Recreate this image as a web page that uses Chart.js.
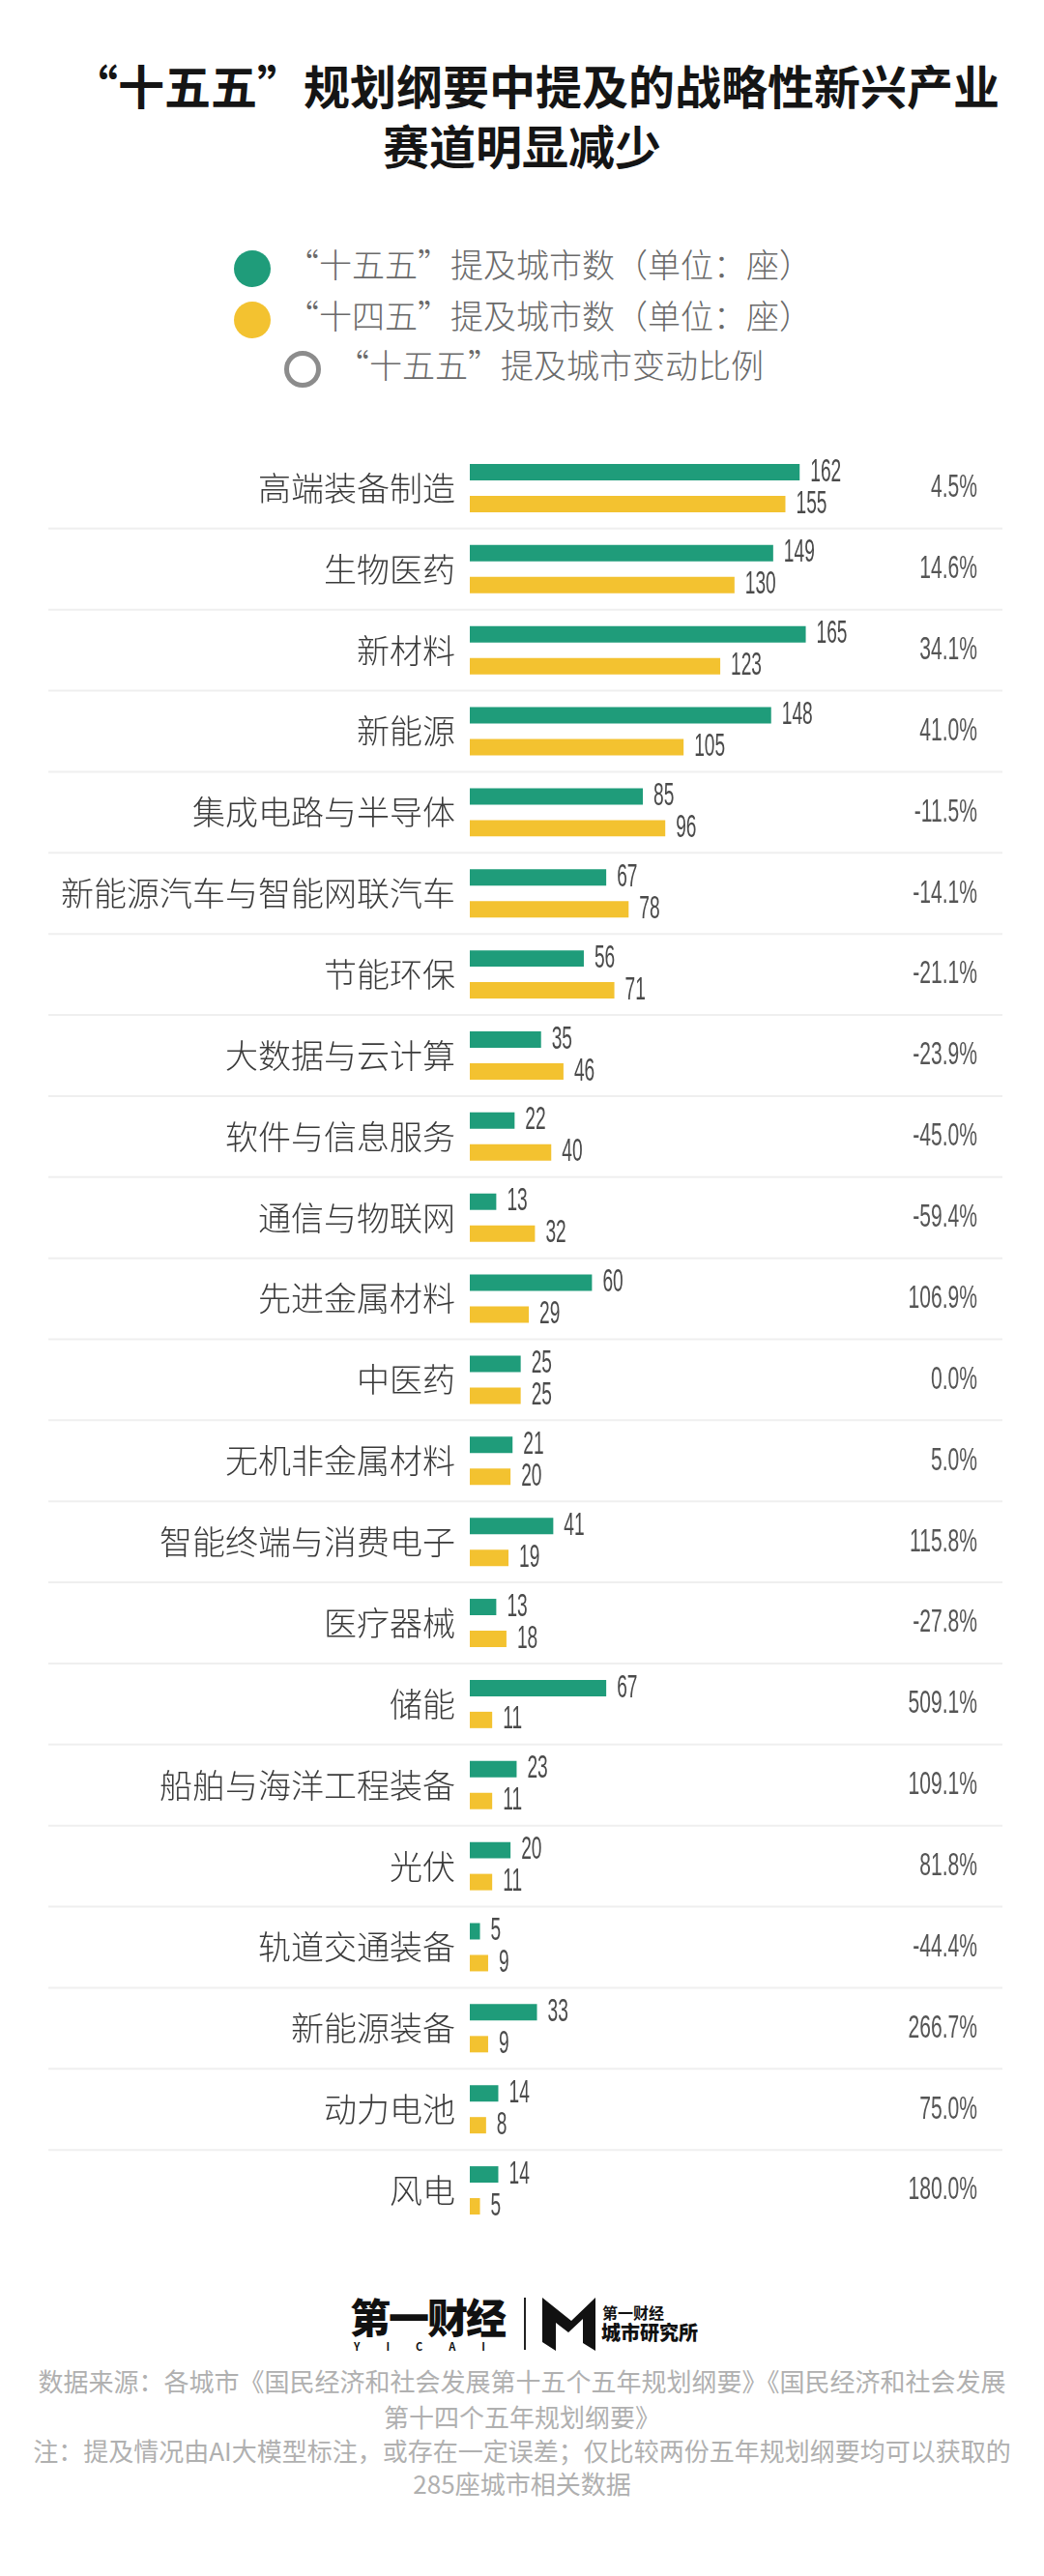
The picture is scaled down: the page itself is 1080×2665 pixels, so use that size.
<!DOCTYPE html>
<html lang="zh-CN">
<head>
<meta charset="utf-8">
<title>“十五五”规划纲要中提及的战略性新兴产业赛道明显减少</title>
<script src="https://cdn.jsdelivr.net/npm/chart.js@4.4.0/dist/chart.umd.min.js"></script>
<style>
  html, body { margin: 0; padding: 0; background: #fff; }
  body { width: 1080px; height: 2665px; position: relative; overflow: hidden;
         font-family: "Noto Sans CJK SC", "Noto Sans", sans-serif; }
  .abs { position: absolute; }
  .title { left: 0; width: 1080px; text-align: center; font-size: 48px; font-weight: 700;
           color: #151515; line-height: 60px; white-space: nowrap; }
  .legend-row { height: 40px; line-height: 40px; font-size: 34px; font-weight: 300; color: #6a6a6a; white-space: nowrap; }
  .dot { display: inline-block; width: 38px; height: 38px; border-radius: 50%; vertical-align: middle; margin-right: 16px; box-sizing: border-box; }
  .chart-box { left: 0; top: 463px; width: 1080px; height: 1845px; }
  .note { left: 0; width: 1080px; text-align: center; font-size: 26px; color: #b0b0b0; line-height: 35px; white-space: nowrap; }
</style>
</head>
<body>

<div class="abs title" style="top:57px;left:14px">“十五五”规划纲要中提及的战略性新兴产业</div>
<div class="abs title" style="top:119px">赛道明显减少</div>

<div class="abs legend-row" style="left:242px;top:253px"><span class="dot" style="background:#1f9c7a"></span>“十五五”提及城市数（单位：座）</div>
<div class="abs legend-row" style="left:242px;top:306px"><span class="dot" style="background:#f3c230"></span>“十四五”提及城市数（单位：座）</div>
<div class="abs legend-row" style="left:294px;top:357px"><span class="dot" style="border:5px solid #8c8c8c"></span>“十五五”提及城市变动比例</div>

<div class="abs chart-box"><canvas id="chart"></canvas></div>

<!-- logo -->
<div class="abs" style="left:362px;top:2372px;font-size:42px;font-weight:900;color:#111;line-height:48px;letter-spacing:-2px">第一财经</div>
<div class="abs" style="left:366px;top:2421px;font-size:11px;font-weight:700;color:#111;letter-spacing:27px;line-height:12px">YICAI</div>
<div class="abs" style="left:542px;top:2377px;width:2px;height:54px;background:#222"></div>
<svg class="abs" style="left:561px;top:2377px" width="56" height="55" viewBox="0 0 56 55">
  <polygon points="0,0 30,24 55,0 55,55 42,47 42,22 27,36 14,26 14,55 0,46" fill="#111"/>
</svg>
<div class="abs" style="left:623px;top:2383px;font-size:16px;font-weight:700;color:#111;line-height:18px">第一财经</div>
<div class="abs" style="left:622px;top:2401px;font-size:20px;font-weight:900;color:#111;line-height:24px">城市研究所</div>

<div class="abs note" style="top:2445px">数据来源：各城市《国民经济和社会发展第十五个五年规划纲要》《国民经济和社会发展</div>
<div class="abs note" style="top:2482px">第十四个五年规划纲要》</div>
<div class="abs note" style="top:2517px">注：提及情况由AI大模型标注，或存在一定误差；仅比较两份五年规划纲要均可以获取的</div>
<div class="abs note" style="top:2551px">285座城市相关数据</div>

<script>
const categories = ['高端装备制造', '生物医药', '新材料', '新能源', '集成电路与半导体', '新能源汽车与智能网联汽车',
    '节能环保', '大数据与云计算', '软件与信息服务', '通信与物联网', '先进金属材料', '中医药', '无机非金属材料',
    '智能终端与消费电子', '医疗器械', '储能', '船舶与海洋工程装备', '光伏', '轨道交通装备', '新能源装备', '动力电池', '风电'];
const plan15 = [162, 149, 165, 148, 85, 67, 56, 35, 22, 13, 60, 25, 21, 41, 13, 67, 23, 20, 5, 33, 14, 14];
const plan14 = [155, 130, 123, 105, 96, 78, 71, 46, 40, 32, 29, 25, 20, 19, 18, 11, 11, 11, 9, 9, 8, 5];
const changeRates = ['4.5%', '14.6%', '34.1%', '41.0%', '-11.5%', '-14.1%', '-21.1%', '-23.9%', '-45.0%', '-59.4%',
    '106.9%', '0.0%', '5.0%', '115.8%', '-27.8%', '509.1%', '109.1%', '81.8%', '-44.4%', '266.7%', '75.0%', '180.0%'];

const GREEN = '#1f9c7a';
const YELLOW = '#f3c230';

// narrow digits like the original, squeezed on the canvas
function narrowText(ctx, text, x, y, size, color, align, squeeze) {
    ctx.save();
    ctx.font = '300 ' + size + 'px "Liberation Sans", Arial, sans-serif';
    ctx.fillStyle = color;
    ctx.textBaseline = 'middle';
    ctx.textAlign = align;
    ctx.translate(x, y);
    ctx.scale(squeeze, 1);
    ctx.fillText(text, 0, 0);
    ctx.restore();
}

const rowLines = {
    id: 'rowLines',
    beforeDatasetsDraw(chart) {
        const ctx = chart.ctx;
        const yScale = chart.scales.y;
        ctx.save();
        ctx.strokeStyle = '#efefef';
        ctx.lineWidth = 2;
        for (let i = 1; i < categories.length; i++) {
            const y = (yScale.getPixelForValue(i - 1) + yScale.getPixelForValue(i)) / 2;
            ctx.beginPath();
            ctx.moveTo(50, y);
            ctx.lineTo(1037, y);
            ctx.stroke();
        }
        ctx.restore();
    }
};

const barLabels = {
    id: 'barLabels',
    afterDatasetsDraw(chart) {
        const ctx = chart.ctx;
        chart.data.datasets.forEach((ds, d) => {
            chart.getDatasetMeta(d).data.forEach((bar, i) => {
                narrowText(ctx, String(ds.data[i]), bar.x + 11, bar.y, 33, '#4a4a4a', 'left', 0.58);
            });
        });
        const yScale = chart.scales.y;
        changeRates.forEach((rate, i) => {
            narrowText(ctx, rate, 1011, yScale.getPixelForValue(i), 34, '#555', 'right', 0.62);
        });
    }
};

new Chart(document.getElementById('chart'), {
    type: 'bar',
    data: {
        labels: categories,
        datasets: [
            { label: '“十五五”提及城市数（单位：座）', data: plan15, backgroundColor: GREEN },
            { label: '“十四五”提及城市数（单位：座）', data: plan14, backgroundColor: YELLOW }
        ]
    },
    options: {
        indexAxis: 'y',
        responsive: true,
        maintainAspectRatio: false,
        animation: false,
        devicePixelRatio: 1,
        categoryPercentage: 0.786,
        barPercentage: 0.515,
        layout: { padding: 0 },
        plugins: {
            legend: { display: false },
            tooltip: { enabled: false }
        },
        scales: {
            x: { display: false, min: 0, max: 282 },
            y: {
                grid: { display: false, drawTicks: false },
                border: { display: false },
                ticks: {
                    padding: 15,
                    color: '#3a3a3a',
                    font: { family: '"Noto Sans CJK SC", sans-serif', size: 34, weight: 300 }
                },
                afterFit(scale) {
                    scale.width = 486;
                    scale.paddingTop = 0;
                    scale.paddingBottom = 0;
                }
            }
        }
    },
    plugins: [rowLines, barLabels]
});
</script>
</body>
</html>
